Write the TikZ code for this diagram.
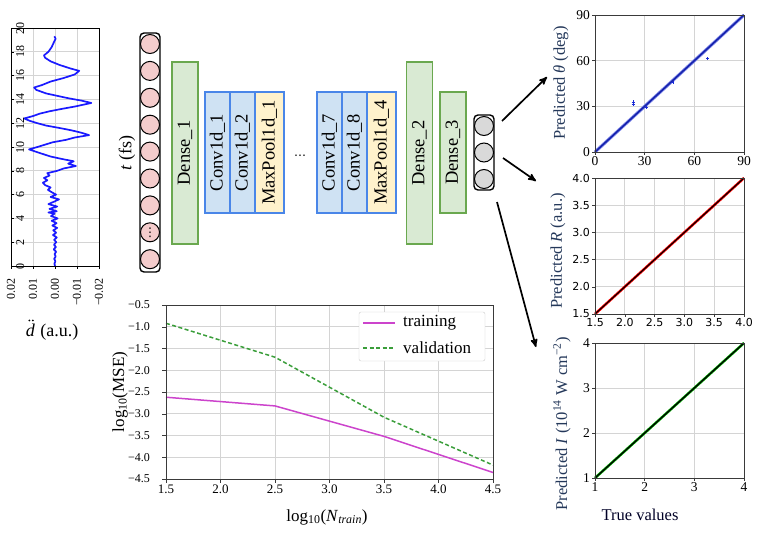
\documentclass[tikz,border=0pt]{standalone}
\usepackage{fontspec}
\usepackage{graphicx}
\setmainfont{Liberation Serif}
\newfontfamily\dvsans{DejaVu Sans}
\usepackage{tikz}
\usetikzlibrary{positioning,arrows}
\definecolor{densefill}{HTML}{D9EAD3}
\definecolor{densedraw}{HTML}{6AA84F}
\definecolor{convfill}{HTML}{CFE2F3}
\definecolor{convdraw}{HTML}{4A86E8}
\definecolor{poolfill}{HTML}{FFF2CC}
\definecolor{infill}{HTML}{F4CCCC}
\definecolor{outfill}{HTML}{D9D9D9}
\definecolor{predcol}{HTML}{24385A}
\definecolor{sigblue}{HTML}{1A1AFF}
\definecolor{thetablue}{HTML}{1C2CD8}
\definecolor{trainc}{HTML}{CC44CC}
\definecolor{validc}{HTML}{3A9E3A}
\definecolor{gridc}{HTML}{D4D4D4}
\definecolor{framec}{HTML}{3A3A3A}
\definecolor{legc}{HTML}{CCCCCC}
\tikzset{
  layer/.style  = {draw, line width=1.5pt, outer sep=0pt, inner sep=0pt,
                   minimum height=121pt, font=\fontsize{18.5}{20}\selectfont},
  dense/.style  = {layer, fill=densefill, draw=densedraw, minimum width=26pt},
  conv/.style   = {layer, fill=convfill, draw=convdraw, minimum width=25pt},
  pool/.style   = {layer, fill=poolfill, draw=convdraw, minimum width=29pt},
  column/.style = {draw, line width=1.4pt, rounded corners=4pt,
                   minimum width=20pt, inner sep=0pt},
  neuron/.style = {circle, draw, line width=1pt, minimum size=19pt, inner sep=0pt},
  gridline/.style = {gridc, line width=0.7pt},
  frame/.style  = {draw=framec, line width=0.9pt},
  ticklab/.style = {inner sep=1pt},
  axlab/.style  = {inner sep=0pt, font=\fontsize{16.5}{18}\selectfont},
  post/.style   = {->, >=stealth', line width=1.7pt}
}

\begin{document}
\begin{tikzpicture}[x=1pt,y=-1pt,font=\fontsize{12}{14}\selectfont]
  \useasboundingbox (0,0) rectangle (763,541);

  % input signal
  \begin{scope}[shift={(55,266)}, x={(-2.2pt,0pt)}, y={(0pt,11.9pt)},
                font=\fontsize{12}{14}\selectfont]
    \foreach \v in {-10,0,10}
      \draw[gridline] (\v,0) -- (\v,20);
    \foreach \t in {2,4,...,18}
      \draw[gridline] (-20,\t) -- (20,\t);
    \draw[sigblue, line width=1.7pt, line join=round] plot coordinates {
      (0,0) (0.3,0.2) (-0.2,0.4) (0.4,0.6) (-0.3,0.8) (0.2,1.0) (-0.5,1.2)
      (0.6,1.4) (-0.4,1.6) (0.5,1.8) (-0.6,2.0) (0.4,2.2) (-0.8,2.4)
      (0.9,2.6) (-0.5,2.8) (0.8,3.0) (-1.0,3.2) (1.2,3.4) (-0.7,3.6)
      (1.5,3.8) (-1.2,4.0) (1.8,4.2) (0.2,4.4) (3.0,4.5) (-0.8,4.6)
      (2.5,4.8) (-1.0,5.0) (3.0,5.2) (0.5,5.4) (-1.8,5.6) (2.0,5.8)
      (-0.5,6.0) (1.5,6.2) (3.2,6.4) (2.0,6.6) (4.5,6.8) (5.5,7.0)
      (3.5,7.2) (5.0,7.4) (2.5,7.6) (3.5,7.8) (-1.0,8.0) (-4.0,8.2)
      (-9.5,8.4) (-6.0,8.6) (-8.5,8.8) (-3.0,9.0) (2.0,9.2) (7.0,9.5)
      (11.8,9.8) (8.0,10.0) (4.5,10.2) (1.0,10.4) (-5.0,10.6) (-9.0,10.8)
      (-15.5,11.0) (-12.0,11.2) (-7.5,11.4) (-2.0,11.6) (4.0,11.8)
      (8.0,12.0) (11.5,12.2) (14.0,12.4) (10.0,12.6) (7.0,12.8) (2.5,13.0)
      (-3.0,13.2) (-9.0,13.4) (-16.5,13.7) (-12.0,13.9) (-6.0,14.1)
      (-1.0,14.3) (4.0,14.5) (8.5,14.8) (9.5,15.0) (6.0,15.2) (2.0,15.5)
      (-4.0,15.8) (-9.0,16.1) (-11.0,16.4) (-7.0,16.6) (-2.0,16.9)
      (2.0,17.2) (4.5,17.5) (5.0,17.7) (3.0,18.0) (1.5,18.4) (0.5,18.8)
      (-0.3,19.1) (0.3,19.3)};
    \draw[frame, draw=black] (-20,0) rectangle (20,20);
    \foreach \t in {0,2,...,20} {
      \draw (20,\t) -- ++(3pt,0pt);
      \node[ticklab, rotate=90, anchor=north] (sigt\t) at ([xshift=4pt]20,\t) {\t};
    }
    \foreach \v/\l [count=\i] in {20/0.02,10/0.01,0/0.00,-10/−0.01,-20/−0.02} {
      \draw (\v,0) -- ++(0pt,-3pt);
      \node[ticklab, rotate=90, anchor=east] (sigd\i) at ([yshift=-11pt]\v,0) {\l};
    }
  \end{scope}
  \node[axlab, font=\fontsize{18}{20}\selectfont] (dlab) at (30.5,330) {\textit{d}};
  \node[axlab, font=\fontsize{18}{20}\selectfont, anchor=base west]
    (aulab) at ([xshift=5pt]dlab.base east) {(a.u.)};
  \fill (dlab.north) ++(-1.2pt,3pt) circle (1pt) ++(3.6pt,0pt) circle (1pt);
  \node[axlab, rotate=90, font=\fontsize{18}{20}\selectfont] (tlab) at (127,153) {\textit{t} (fs)};

  % network
  \node[column, minimum height=239pt] (incol) at (150,152.5) {};
  \foreach \i in {1,...,9}
    \node[neuron, fill=infill] (in\i) at (150,{44+26.9*(\i-1)}) {};
  \node[inner sep=0pt, font=\dvsans\fontsize{12}{12}\selectfont] (indots) at (in8.center) {⋮};

  \node[dense, minimum height=182pt] (dense1) at (185,153) {\rotatebox{90}{Dense\_1}};
  \node[conv] (conv1) at (217.5,152.5) {\rotatebox{90}{Conv1d\_1}};
  \node[conv, right=0pt of conv1] (conv2) {\rotatebox{90}{Conv1d\_2}};
  \node[pool, right=0pt of conv2] (pool1) {\rotatebox{90}{MaxPool1d\_1}};
  \node[font=\dvsans\fontsize{12}{12}\selectfont] (middots) at (300,157) {⋯};
  \node[conv] (conv7) at (329.5,152.5) {\rotatebox{90}{Conv1d\_7}};
  \node[conv, right=0pt of conv7] (conv8) {\rotatebox{90}{Conv1d\_8}};
  \node[pool, right=0pt of conv8] (pool4) {\rotatebox{90}{MaxPool1d\_4}};
  \node[dense, minimum height=182pt] (dense2) at (419.5,153) {\rotatebox{90}{Dense\_2}};
  \node[dense] (dense3) at (453,152.5) {\rotatebox{90}{Dense\_3}};

  \node[column, minimum height=75pt] (outcol) at (484,152.5) {};
  \foreach \i in {1,2,3}
    \node[neuron, fill=outfill] (out\i) at (484,{126+26.5*(\i-1)}) {};

  \coordinate (a1s) at (502,121);
  \coordinate (a1e) at (547,77);
  \coordinate (a2s) at (503,158);
  \coordinate (a2e) at (536,181);
  \coordinate (a3s) at (497,202);
  \coordinate (a3e) at (536,347);
  \draw[post] (a1s) -- (a1e);
  \draw[post] (a2s) -- (a2e);
  \draw[post] (a3s) -- (a3e);

  % predicted theta
  \begin{scope}[shift={(595,152)}, x={(1.6556pt,0pt)}, y={(0pt,1.5222pt)},
                font=\fontsize{13.5}{15}\selectfont]
    \foreach \v in {30,60} {
      \draw[gridline] (\v,0) -- (\v,90);
      \draw[gridline] (0,\v) -- (90,\v);
    }
    \draw[thetablue!55, line width=3.2pt] (0,0) -- (90,90);
    \draw[thetablue!80!black, line width=1.6pt] (0,0) -- (90,90);
    \foreach \p in {(23,31.5),(23,33),(68,61.5),(47,45.5),(31,29.5)}
      \draw[thetablue, line width=0.5pt] \p +(-1.5pt,0pt) -- +(1.5pt,0pt)
                                          \p +(0pt,-1.5pt) -- +(0pt,1.5pt);
    \draw[frame] (0,0) rectangle (90,90);
    \foreach \v in {0,30,60,90} {
      \draw[framec] (0,\v) -- ++(-3pt,0pt) (\v,0) -- ++(0pt,-3pt);
      \node[ticklab, anchor=east] (thy\v) at ([xshift=-4pt]0,\v) {\v};
      \node[ticklab, anchor=north] (thx\v) at ([yshift=-3pt]\v,0) {\v};
    }
  \end{scope}
  \node[axlab, rotate=90, text=predcol] (thlab) at (561,83) {Predicted \textit{θ} (deg)};

  % predicted R
  \begin{scope}[shift={(505.6,395.6)}, x={(59.6pt,0pt)}, y={(0pt,54.4pt)},
                font=\dvsans\fontsize{11}{12}\selectfont]
    \foreach \v in {2.0,2.5,3.0,3.5} {
      \draw[gridline] (\v,1.5) -- (\v,4);
      \draw[gridline] (1.5,\v) -- (4,\v);
    }
    \draw[red, line width=2.6pt] (1.5,1.5) -- (4,4);
    \draw[black, line width=1.1pt] (1.5,1.5) -- (4,4);
    \draw[frame] (1.5,1.5) rectangle (4,4);
    \foreach \v [count=\i] in {1.5,2.0,2.5,3.0,3.5,4.0} {
      \draw[framec] (1.5,\v) -- ++(-3pt,0pt) (\v,1.5) -- ++(0pt,-3pt);
      \node[ticklab, anchor=east] (ry\i) at ([xshift=-4pt]1.5,\v) {\v};
      \node[ticklab, anchor=north] (rx\i) at ([yshift=-3pt]\v,1.5) {\v};
    }
  \end{scope}
  \node[axlab, rotate=90, text=predcol] (rlab) at (558,251) {Predicted \textit{R} (a.u.)};

  % predicted I
  \begin{scope}[shift={(545.33,523)}, x={(49.67pt,0pt)}, y={(0pt,45pt)},
                font=\fontsize{13.5}{15}\selectfont]
    \foreach \v in {2,3} {
      \draw[gridline] (\v,1) -- (\v,4);
      \draw[gridline] (1,\v) -- (4,\v);
    }
    \draw[green!70!black, line width=2.6pt] (1,1) -- (4,4);
    \draw[black, line width=1.3pt] (1,1) -- (4,4);
    \draw[frame] (1,1) rectangle (4,4);
    \foreach \v in {1,2,3,4} {
      \draw[framec] (1,\v) -- ++(-3pt,0pt) (\v,1) -- ++(0pt,-3pt);
      \node[ticklab, anchor=east] (iy\v) at ([xshift=-4pt]1,\v) {\v};
      \node[ticklab, anchor=north] (ix\v) at ([yshift=-3pt]\v,1) {\v};
    }
  \end{scope}
  \node[axlab, rotate=90, text=predcol] (ilab) at (562,424)
    {Predicted \textit{I} (10\textsuperscript{14} W cm\textsuperscript{−2})};
  \node[axlab, text=black!85!blue] (truelab) at (640,515) {True values};

  % learning curve
  \begin{scope}[shift={(2.5,283.25)}, x={(109pt,0pt)}, y={(0pt,43.5pt)},
                font=\fontsize{12}{14}\selectfont]
    \foreach \v in {2.0,2.5,3.0,3.5,4.0}
      \draw[gridline] (\v,-4.5) -- (\v,-0.5);
    \foreach \v in {-1.0,-1.5,-2.0,-2.5,-3.0,-3.5,-4.0}
      \draw[gridline] (1.5,\v) -- (4.5,\v);
    \draw[trainc, line width=1.5pt] plot coordinates
      {(1.5,-2.62) (2.5,-2.82) (3.5,-3.52) (4.5,-4.35)};
    \draw[validc, line width=1.5pt, dash pattern=on 4pt off 2.5pt] plot coordinates
      {(1.5,-0.92) (2.5,-1.70) (3.5,-3.08) (4.5,-4.18)};
    \draw[frame] (1.5,-4.5) rectangle (4.5,-0.5);
    \foreach \v/\l [count=\i] in {-0.5/−0.5,-1.0/−1.0,-1.5/−1.5,-2.0/−2.0,-2.5/−2.5,
                                  -3.0/−3.0,-3.5/−3.5,-4.0/−4.0,-4.5/−4.5} {
      \draw[framec] (1.5,\v) -- ++(-4pt,0pt);
      \node[ticklab, anchor=east] (ly\i) at ([xshift=-15pt]1.5,\v) {\l};
    }
    \foreach \v [count=\i] in {1.5,2.0,2.5,3.0,3.5,4.0,4.5} {
      \draw[framec] (\v,-4.5) -- ++(0pt,-4pt);
      \node[ticklab, anchor=north, font=\fontsize{13}{15}\selectfont] (lx\i) at ([yshift=-5pt]\v,-4.5) {\v};
    }
  \end{scope}
  \node[axlab, font=\fontsize{17}{19}\selectfont] (mselab) at (120,392) [rotate=90] {log\textsubscript{10}(MSE)};
  \node[axlab, font=\fontsize{17}{19}\selectfont] (nlab) at (327,517) {log\textsubscript{10}(\textit{N}\textsubscript{\textit{train}})};

  \node[draw=legc, fill=white, rounded corners=2pt, minimum width=126pt,
        minimum height=49pt] (legend) at (422,336.5) {};
  \coordinate (trs) at (363,323);
  \coordinate (tre) at (395,323);
  \coordinate (vas) at (363,348);
  \coordinate (vae) at (395,348);
  \draw[trainc, line width=1.5pt] (trs) -- (tre);
  \draw[validc, line width=1.5pt, dash pattern=on 4pt off 2.5pt] (vas) -- (vae);
  \node[axlab, anchor=west, font=\fontsize{17}{19}\selectfont] (trlab) at (403,323) {training};
  \node[axlab, anchor=west, font=\fontsize{17}{19}\selectfont] (valab) at (403,348) {validation};
\end{tikzpicture}
\end{document}
